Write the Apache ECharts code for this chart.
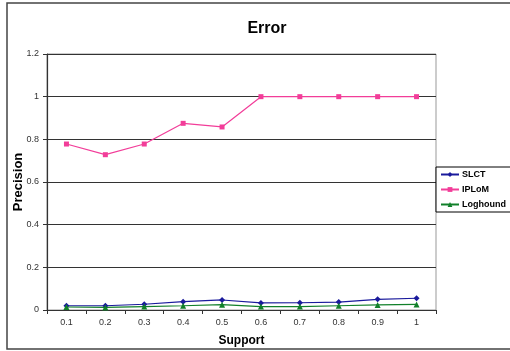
<!DOCTYPE html>
<html>
<head>
<meta charset="utf-8">
<script src="https://cdn.jsdelivr.net/npm/echarts@6/dist/echarts.min.js"></script>
<style>
  html, body { margin: 0; padding: 0; background: #fff; }
  #chart { width: 510px; height: 351px; }
</style>
</head>
<body>
<div id="chart"></div>
<script>
// Support thresholds on the x axis
const supportLevels = ['0.1', '0.2', '0.3', '0.4', '0.5', '0.6', '0.7', '0.8', '0.9', '1'];

// Precision per algorithm
const slct     = [0.020, 0.020, 0.027, 0.039, 0.047, 0.033, 0.034, 0.037, 0.050, 0.055];
const iplom    = [0.778, 0.728, 0.778, 0.875, 0.858, 1.000, 1.000, 1.000, 1.000, 1.000];
const loghound = [0.014, 0.012, 0.016, 0.020, 0.025, 0.016, 0.016, 0.020, 0.024, 0.026];

const FONT = '"Liberation Sans", Arial, sans-serif';

const chart = echarts.init(document.getElementById('chart'), null, { renderer: 'canvas' });

function lineSeries(name, data, color, symbol, size) {
  return {
    name: name,
    type: 'line',
    data: data,
    symbol: symbol,
    symbolSize: size,
    showAllSymbol: true,
    lineStyle: { color: color, width: 1.2 },
    itemStyle: { color: color },
    emphasis: { disabled: true },
    animation: false
  };
}

chart.setOption({
  animation: false,
  backgroundColor: '#ffffff',
  title: {
    text: 'Error',
    left: 262,
    top: 16,
    textAlign: 'center',
    textStyle: { fontFamily: FONT, fontSize: 16, fontWeight: 'bold', color: '#000' }
  },
  graphic: [
    {
      type: 'rect',
      shape: { x: 7, y: 3, width: 520, height: 346 },
      style: { fill: 'none', stroke: '#444', lineWidth: 1.5 },
      silent: true,
      z: -1
    },
    {
      type: 'rect',
      shape: { x: 47, y: 54, width: 389, height: 256 },
      style: { fill: 'none', stroke: '#999', lineWidth: 1 },
      silent: true,
      z: 0
    }
  ],
  legend: {
    orient: 'vertical',
    left: 436,
    top: 167,
    padding: [3, 10, 3, 4],
    itemGap: 6,
    itemWidth: 18,
    itemHeight: 6,
    borderColor: '#000',
    borderWidth: 1,
    backgroundColor: '#fff',
    textStyle: { fontFamily: FONT, fontSize: 9, fontWeight: 'bold', color: '#000', padding: [0, 0, 0, -2] },
    data: ['SLCT', 'IPLoM', 'Loghound']
  },
  grid: { left: 47, right: 74, top: 54, bottom: 41, containLabel: false, outerBoundsMode: 'none' },
  xAxis: {
    type: 'category',
    data: supportLevels,
    boundaryGap: true,
    name: 'Support',
    nameLocation: 'middle',
    nameGap: 25,
    nameMoveOverlap: false,
    nameTextStyle: { fontFamily: FONT, fontSize: 12, fontWeight: 'bold', color: '#000' },
    axisLine: { lineStyle: { color: '#333', width: 1.2 } },
    axisTick: { show: true, length: 4, lineStyle: { color: '#333' } },
    axisLabel: { fontFamily: FONT, fontSize: 9, color: '#333', margin: 8 },
    splitLine: { show: false }
  },
  yAxis: {
    type: 'value',
    min: 0,
    max: 1.2,
    interval: 0.2,
    name: 'Precision',
    nameLocation: 'middle',
    nameGap: 22,
    nameMoveOverlap: false,
    nameTextStyle: { fontFamily: FONT, fontSize: 13, fontWeight: 'bold', color: '#000' },
    axisLine: { show: true, lineStyle: { color: '#333', width: 1.2 } },
    axisTick: { show: true, length: 4, lineStyle: { color: '#333' } },
    axisLabel: { fontFamily: FONT, fontSize: 9, color: '#333', margin: 8 },
    splitLine: { show: true, lineStyle: { color: '#333', width: 1 } }
  },
  series: [
    lineSeries('SLCT', slct, '#1a1a9c', 'diamond', 6),
    lineSeries('IPLoM', iplom, '#f23d99', 'rect', 5),
    lineSeries('Loghound', loghound, '#11802a', 'triangle', 6)
  ]
});
</script>
</body>
</html>
